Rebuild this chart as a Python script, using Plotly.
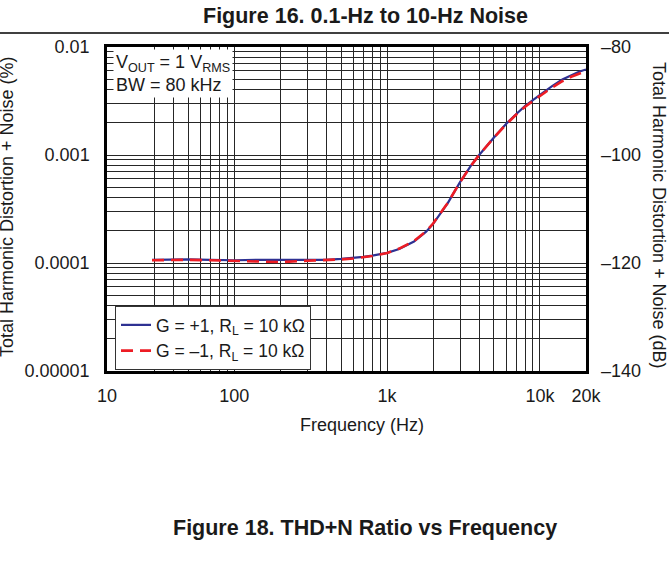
import math
import plotly.graph_objects as go

# ---------------- data ----------------
freq_hz = [29, 40, 50, 70, 100, 150, 200, 300, 400, 500, 600, 700, 800, 900,
           1000, 1200, 1500, 1800, 2000, 2500, 3000, 3500, 4000, 5000, 6000,
           7000, 8000, 10000, 12000, 14000, 16000, 18000, 20000]
thdn_g_plus1 = [1.07e-4, 1.08e-4, 1.08e-4, 1.07e-4, 1.06e-4, 1.07e-4, 1.07e-4,
                1.07e-4, 1.07e-4, 1.09e-4, 1.11e-4, 1.14e-4, 1.17e-4, 1.20e-4,
                1.24e-4, 1.35e-4, 1.58e-4, 1.95e-4, 2.30e-4, 3.60e-4, 5.60e-4,
                7.80e-4, 1.00e-3, 1.45e-3, 1.94e-3, 2.40e-3, 2.85e-3, 3.60e-3,
                4.35e-3, 5.00e-3, 5.50e-3, 5.90e-3, 6.20e-3]
freq_hz_inv = [29, 40, 50, 70, 100, 150, 200, 300, 400, 500, 600, 700, 800, 900,
               1000, 1200, 1500, 1800, 2000, 2500, 3000, 3500, 4000, 5000, 6000,
               7000, 8000, 10000, 12000, 14000, 16000, 18000, 19500]
thdn_g_minus1 = [1.06e-4, 1.07e-4, 1.07e-4, 1.06e-4, 1.05e-4, 1.04e-4, 1.02e-4,
                 1.05e-4, 1.06e-4, 1.08e-4, 1.10e-4, 1.13e-4, 1.16e-4, 1.20e-4,
                 1.24e-4, 1.36e-4, 1.60e-4, 1.97e-4, 2.32e-4, 3.62e-4, 5.60e-4,
                 7.80e-4, 1.00e-3, 1.45e-3, 1.92e-3, 2.37e-3, 2.80e-3, 3.52e-3,
                 4.22e-3, 4.82e-3, 5.30e-3, 5.65e-3, 5.90e-3]

x_tick_labels = ["10", "100", "1k", "10k", "20k"]
x_label_values = [None, 100, 1000, 10000, 20000]   # None -> left edge of axis
y_tick_labels = ["0.00001", "0.0001", "0.001", "0.01"]
y_label_values = [1e-5, 1e-4, 1e-3, 1e-2]
db_tick_values = [-140, -120, -100, -80]
db_tick_labels = ["\u2013140", "\u2013120", "\u2013100", "\u201380"]

series_names = ["G = +1, R<sub>L</sub> = 10 k\u03a9",
                "G = \u20131, R<sub>L</sub> = 10 k\u03a9"]

# ---------------- layout helpers ----------------
W, H = 669, 567
L, R, T, B = 107, 586, 47, 371
X_RANGE = [1.168, math.log10(20000)]
Y_RANGE = [-5, -2]
FONT = "Liberation Sans, Arial, sans-serif"
TXT = "#1a1a1a"
GRID = "#262626"


def px_x(p):
    return (p - L) / (R - L)


def px_y(p):
    return (B - p) / (B - T)


# vertical grid values
x_grid = [k * 10 ** e for e in (1, 2, 3) for k in range(1, 10)
          if k * 10 ** e >= 30] + [10000, 20000]
x_left = 10 ** X_RANGE[0]
lab = {(x_left if v is None else v): t for v, t in zip(x_label_values, x_tick_labels)}
x_tickvals = sorted(set(x_grid) | set(lab.keys()))
x_ticktext = [lab.get(v, "") for v in x_tickvals]

y_grid = [k * 10 ** e for e in (-5, -4, -3) for k in range(1, 10)] + [1e-2]
ylab = dict(zip(y_label_values, y_tick_labels))
y_ticktext = [ylab.get(v, "") for v in y_grid]

fig = go.Figure()
fig.add_trace(go.Scatter(x=freq_hz, y=thdn_g_plus1, mode="lines",
                         name=series_names[0],
                         line=dict(color="#2e3192", width=2.2)))
fig.add_trace(go.Scatter(x=freq_hz_inv, y=thdn_g_minus1, mode="lines",
                         name=series_names[1],
                         line=dict(color="#ed1c24", width=2.6, dash="12px,7px")))
# same data expressed in dB on the right axis (invisible, carries the dB scale)
fig.add_trace(go.Scatter(x=freq_hz, y=[20 * math.log10(v / 100) for v in thdn_g_plus1],
                         yaxis="y2", mode="lines", line=dict(width=0, color="rgba(0,0,0,0)"),
                         showlegend=False, hoverinfo="skip"))

fig.update_layout(
    width=W, height=H,
    margin=dict(l=L, r=W - R, t=T, b=H - B),
    paper_bgcolor="white", plot_bgcolor="white",
    font=dict(family=FONT, size=18, color=TXT),
    showlegend=True,
    legend=dict(x=px_x(115), y=px_y(306), xanchor="left", yanchor="top",
                bgcolor="white", bordercolor="#333333", borderwidth=1,
                font=dict(family=FONT, size=17.5, color=TXT),
                tracegroupgap=0, itemwidth=30, entrywidth=195),
    xaxis=dict(type="log", range=X_RANGE, tickvals=x_tickvals, ticktext=x_ticktext,
               showgrid=True, gridcolor=GRID, gridwidth=1, ticks="",
               ticklabelstandoff=7,
               showline=True, linecolor="black", linewidth=2.5, mirror=True,
               zeroline=False),
    yaxis=dict(type="log", range=Y_RANGE, tickvals=y_grid, ticktext=y_ticktext,
               showgrid=True, gridcolor=GRID, gridwidth=1, ticks="",
               ticklabelstandoff=11,
               showline=True, linecolor="black", linewidth=2.5, mirror=True,
               zeroline=False),
    yaxis2=dict(overlaying="y", side="right", range=[-140, -80],
                tickvals=db_tick_values, ticktext=db_tick_labels,
                showgrid=False, zeroline=False, showline=False, ticks="",
                ticklabelstandoff=14),
)

TITLE_FONT = dict(family=FONT, size=21.5, color=TXT)
ann = []
ann.append(dict(text="<b>Figure 16. 0.1-Hz to 10-Hz Noise</b>", xref="paper", yref="paper",
                x=px_x(365), y=px_y(16), xanchor="center", yanchor="middle",
                showarrow=False, font=TITLE_FONT))
ann.append(dict(text="<b>Figure 18. THD+N Ratio vs Frequency</b>", xref="paper", yref="paper",
                x=px_x(365), y=px_y(528), xanchor="center", yanchor="middle",
                showarrow=False, font=TITLE_FONT))
ann.append(dict(text="Frequency (Hz)", xref="paper", yref="paper",
                x=px_x(362), y=px_y(425), xanchor="center", yanchor="middle",
                showarrow=False))
ann.append(dict(text="Total Harmonic Distortion + Noise (%)", xref="paper", yref="paper",
                x=px_x(7), y=px_y(207), xanchor="center", yanchor="middle",
                textangle=-90, showarrow=False))
ann.append(dict(text="Total Harmonic Distortion + Noise (dB)", xref="paper", yref="paper",
                x=px_x(659), y=px_y(215), xanchor="center", yanchor="middle",
                textangle=90, showarrow=False))
ann.append(dict(text="V<sub>OUT</sub> = 1 V<sub>RMS</sub><br>BW = 80 kHz",
                xref="paper", yref="paper", x=px_x(113), y=px_y(49),
                xanchor="left", yanchor="top", align="left",
                bgcolor="white", borderpad=2, showarrow=False))
fig.update_layout(annotations=ann)

fig.add_shape(type="line", xref="paper", yref="paper",
              x0=px_x(0), x1=px_x(W), y0=px_y(33), y1=px_y(33),
              line=dict(color="black", width=1.5))

fig.write_html("out.html", config={"displayModeBar": False},
               post_script="document.body.style.margin='0px';")
